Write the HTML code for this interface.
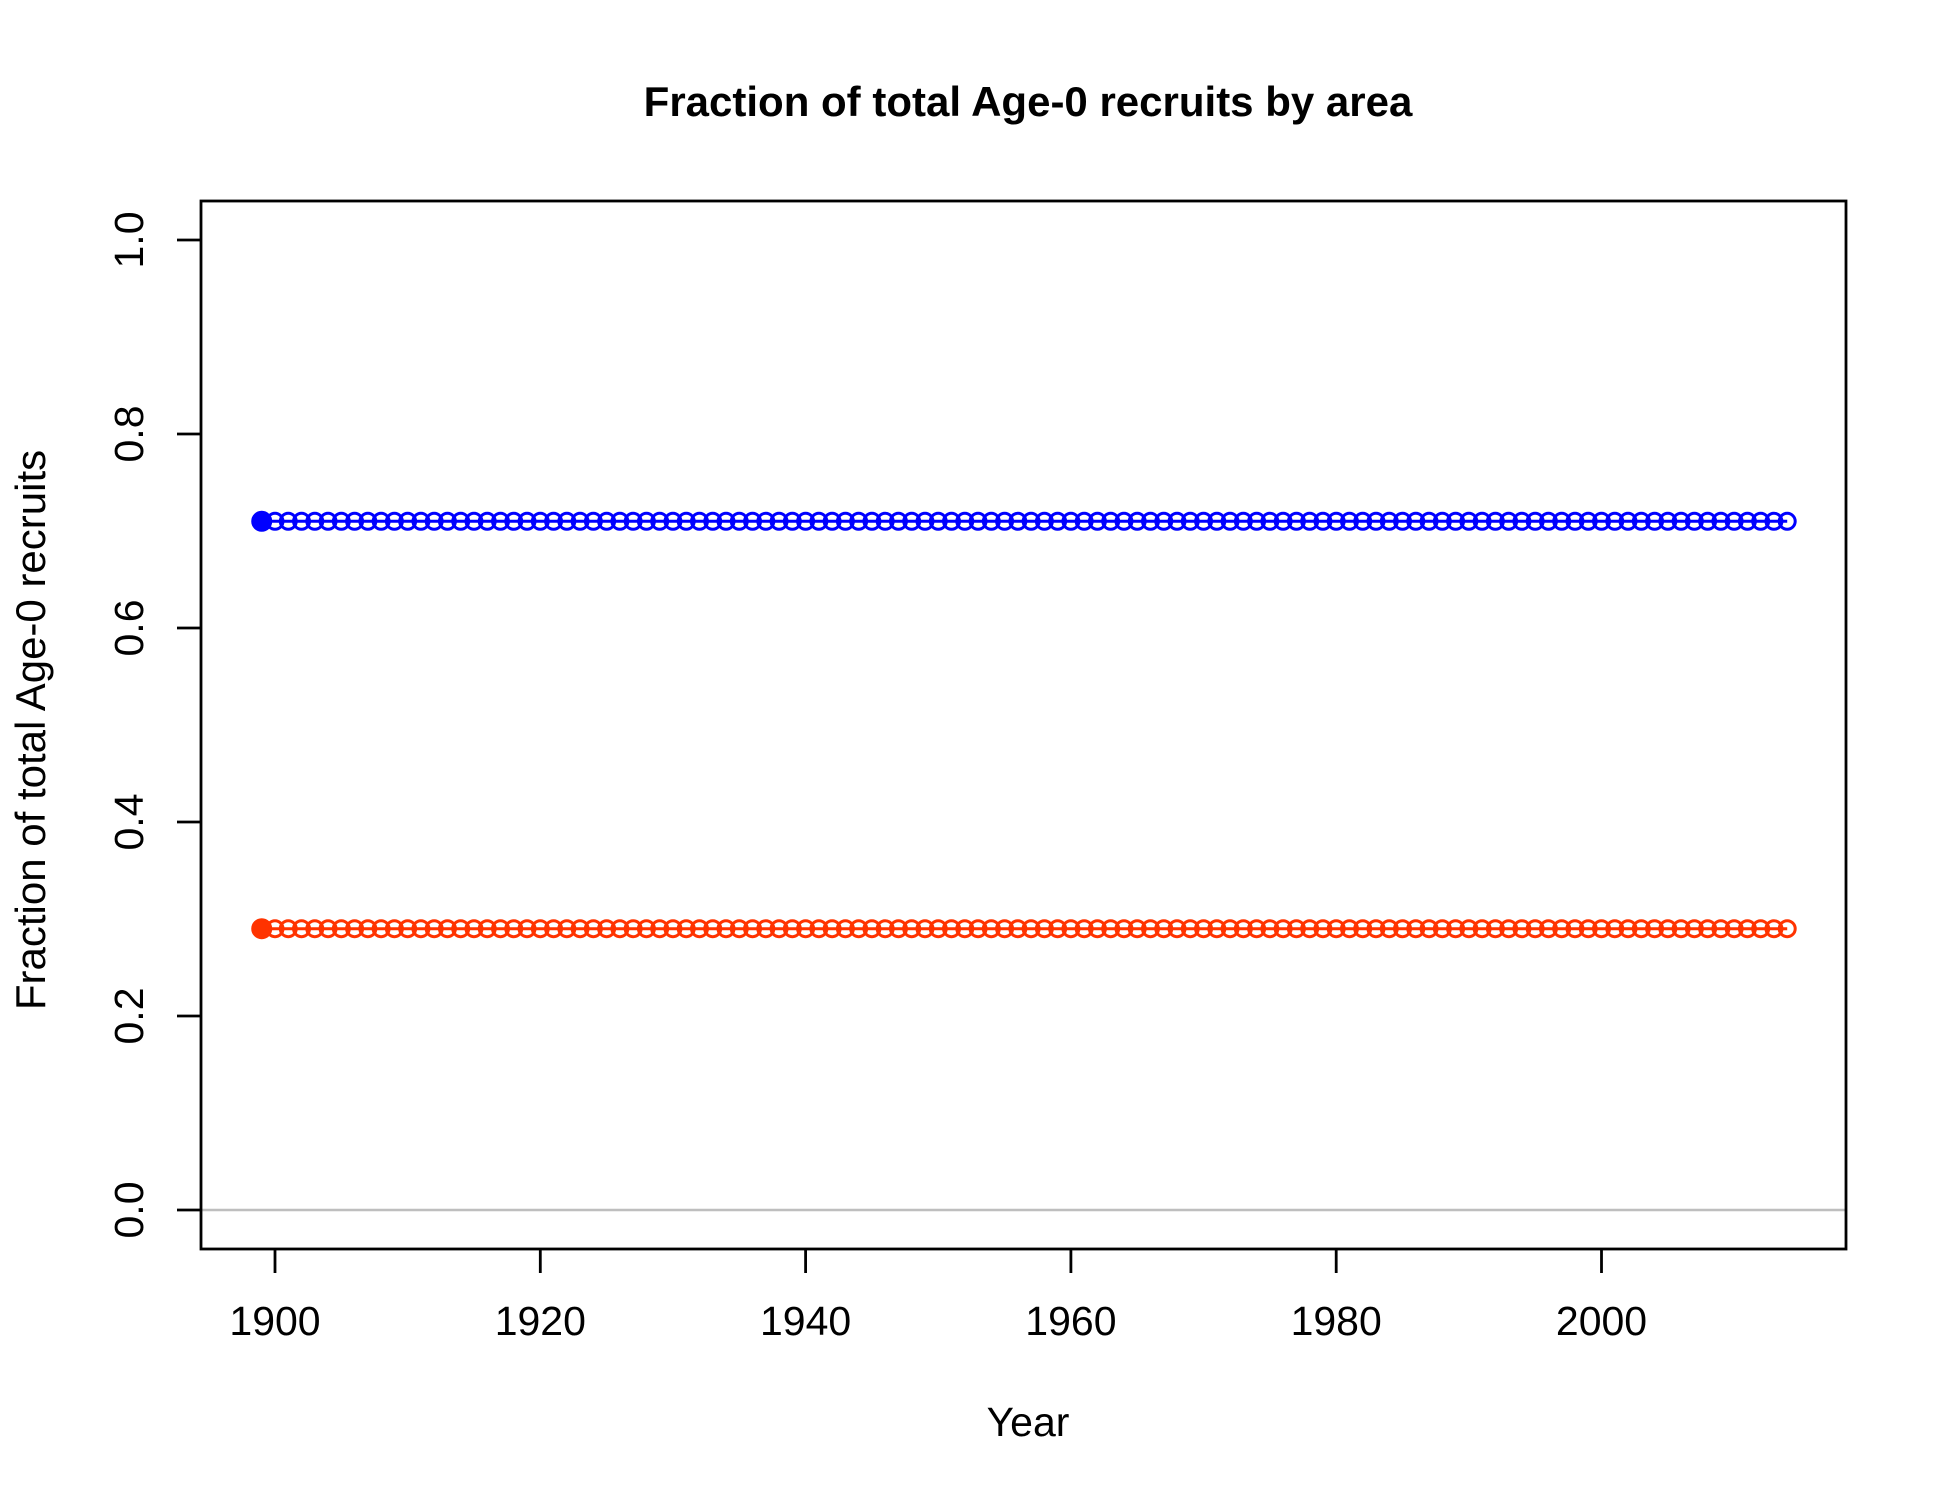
<!DOCTYPE html>
<html><head><meta charset="utf-8"><style>
html,body{margin:0;padding:0;background:#fff;}
svg text{font-family:"Liberation Sans",sans-serif;}
</style></head><body>
<svg id="chart" width="1950" height="1500" viewBox="0 0 1950 1500" xmlns="http://www.w3.org/2000/svg">
<rect width="1950" height="1500" fill="#fff"/>
<text x="1028" y="116" font-size="42" font-weight="bold" text-anchor="middle">Fraction of total Age-0 recruits by area</text>
<text x="1028" y="1436" font-size="41" text-anchor="middle">Year</text>
<text transform="translate(45,730) rotate(-90)" font-size="42" text-anchor="middle">Fraction of total Age-0 recruits</text>
<g id="plot"></g>
</svg>
<script>
const years = [];
for (let y = 1899; y <= 2014; y++) years.push(y);
const area1Values = new Array(116).fill(0.71);
const area2Values = new Array(116).fill(0.29);
const xTicks = [1900, 1920, 1940, 1960, 1980, 2000];
const yTicks = [0.0, 0.2, 0.4, 0.6, 0.8, 1.0];

const NS = "http://www.w3.org/2000/svg";
const L = 201, R = 1846, T = 201, B = 1249;
function xs(v){ return 275 + (v - 1900) * (540.3 - 275) / 20; }
function ys(v){ return 1210 - v * 970; }
const g = document.getElementById('plot');
function mk(tag, attrs){ const e = document.createElementNS(NS, tag); for (const k in attrs) e.setAttribute(k, attrs[k]); g.appendChild(e); return e; }

let zl = mk('line', {x1:L, x2:R, y1:ys(0), y2:ys(0), stroke:'#bebebe', 'stroke-width':2.5});



function series(vals, color, name){
  const pts = years.map((yr,i)=>xs(yr)+','+ys(vals[i])).join(' ');
  const pl = mk('polyline', {points:pts, fill:'none', stroke:color, 'stroke-width':3});
  
  
  years.forEach((yr,i)=>{
    const c = mk('circle', {cx:xs(yr), cy:ys(vals[i]), r:i===0?9:8, fill:i===0?color:'none', stroke:color, 'stroke-width':3});
    
    
  });
}
series(area1Values, '#0000ff', 'area-1');
series(area2Values, '#ff3300', 'area-2');

let box = mk('rect', {x:L, y:T, width:R-L, height:B-T, fill:'none', stroke:'#000', 'stroke-width':2.8});



xTicks.forEach(t=>{
  const tl = mk('line', {x1:xs(t), x2:xs(t), y1:B, y2:B+24, stroke:'#000', 'stroke-width':2.8});
  
  
  const tx = mk('text', {x:xs(t), y:1335, 'font-size':41, 'text-anchor':'middle'});
  tx.textContent = t;
  
  
});
yTicks.forEach(t=>{
  const tl = mk('line', {x1:L-24, x2:L, y1:ys(t), y2:ys(t), stroke:'#000', 'stroke-width':2.8});
  
  
  const tx = mk('text', {transform:'translate(143,'+ys(t)+') rotate(-90)', 'font-size':41, 'text-anchor':'middle'});
  tx.textContent = t.toFixed(1);
  
  
});
</script>
</body></html>
